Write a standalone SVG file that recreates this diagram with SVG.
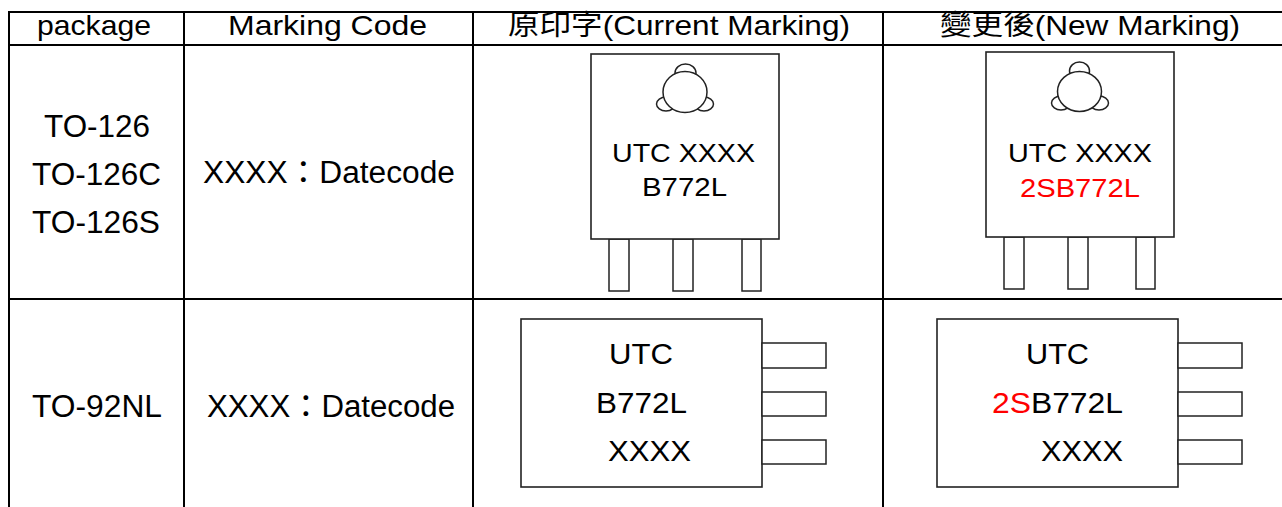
<svg xmlns="http://www.w3.org/2000/svg" width="1282" height="507" viewBox="0 0 1282 507">
<style>
.t{font-family:"Liberation Sans","Noto Sans CJK TC",Arial,sans-serif;fill:#000}
.cjk{font-family:"Noto Sans CJK TC","Liberation Sans",sans-serif}
.h{font-size:28px}
.c{font-size:31px}
.m{font-size:26px}
.n{font-size:29px}
.red{fill:#ff0000}
.grid{stroke:#000;stroke-width:2;fill:none}
.body{fill:#fff;stroke:#222;stroke-width:1.6}
.leg{fill:#fff;stroke:#222;stroke-width:1.5}
</style>
<rect width="1282" height="507" fill="#fff"/>
<g id="table-lines" class="grid">
<line x1="8" y1="12" x2="1282" y2="12"/>
<line x1="8" y1="45" x2="1282" y2="45"/>
<line x1="8" y1="299" x2="1282" y2="299"/>
<line x1="9" y1="11" x2="9" y2="507"/>
<line x1="184" y1="11" x2="184" y2="507"/>
<line x1="473" y1="11" x2="473" y2="507"/>
<line x1="883" y1="11" x2="883" y2="507"/>
</g>
<g id="header">
<text class="t h" x="37" y="35" textLength="114" lengthAdjust="spacingAndGlyphs">package</text>
<text class="t h" x="228" y="35" textLength="199" lengthAdjust="spacingAndGlyphs">Marking Code</text>
<text class="t h" x="508" y="35" textLength="342" lengthAdjust="spacingAndGlyphs"><tspan class="cjk">原印字</tspan>(Current Marking)</text>
<text class="t h" x="940" y="35" textLength="300" lengthAdjust="spacingAndGlyphs"><tspan class="cjk">變更後</tspan>(New Marking)</text>
</g>
<g id="row1-package">
<text class="t c" x="44" y="137" textLength="106" lengthAdjust="spacingAndGlyphs">TO-126</text>
<text class="t c" x="32" y="185" textLength="129" lengthAdjust="spacingAndGlyphs">TO-126C</text>
<text class="t c" x="32" y="233" textLength="128" lengthAdjust="spacingAndGlyphs">TO-126S</text>
</g>
<g id="row1-code">
<text class="t c" x="203" y="183" textLength="252" lengthAdjust="spacingAndGlyphs">XXXX：Datecode</text>
</g>
<g id="row1-current">
<rect class="leg" x="609" y="239" width="20" height="52"/>
<rect class="leg" x="673" y="239" width="20" height="52"/>
<rect class="leg" x="742" y="239" width="19" height="52"/>
<rect class="body" x="591" y="54" width="188" height="185"/>
<ellipse class="leg" cx="685.5" cy="73" rx="10.5" ry="9"/>
<ellipse class="leg" cx="666" cy="104" rx="9.5" ry="7"/>
<ellipse class="leg" cx="704" cy="104" rx="9.5" ry="7"/>
<ellipse class="leg" cx="685" cy="92" rx="22" ry="20.5"/>
<text class="t m" x="612" y="162" textLength="143" lengthAdjust="spacingAndGlyphs">UTC XXXX</text>
<text class="t m" x="642" y="196" textLength="85" lengthAdjust="spacingAndGlyphs">B772L</text>
</g>
<g id="row1-new">
<rect class="leg" x="1004" y="237" width="20" height="52"/>
<rect class="leg" x="1068" y="237" width="20" height="52"/>
<rect class="leg" x="1136" y="237" width="19" height="52"/>
<rect class="body" x="986" y="52" width="188" height="185"/>
<ellipse class="leg" cx="1079.5" cy="71" rx="10" ry="9"/>
<ellipse class="leg" cx="1061" cy="103" rx="9.5" ry="7"/>
<ellipse class="leg" cx="1099" cy="103" rx="9.5" ry="7"/>
<ellipse class="leg" cx="1079.5" cy="91.5" rx="22" ry="20"/>
<text class="t m" x="1008" y="162" textLength="144" lengthAdjust="spacingAndGlyphs">UTC XXXX</text>
<text class="t m red" x="1020" y="197" textLength="120" lengthAdjust="spacingAndGlyphs">2SB772L</text>
</g>
<g id="row2-package">
<text class="t c" x="32" y="417" textLength="130" lengthAdjust="spacingAndGlyphs">TO-92NL</text>
</g>
<g id="row2-code">
<text class="t c" x="207" y="417" textLength="248" lengthAdjust="spacingAndGlyphs">XXXX：Datecode</text>
</g>
<g id="row2-current">
<rect class="body" x="521" y="319" width="241" height="168"/>
<rect class="leg" x="762" y="343" width="64" height="25"/>
<rect class="leg" x="762" y="392" width="64" height="24"/>
<rect class="leg" x="762" y="440" width="64" height="24"/>
<text class="t n" x="609" y="364" textLength="64" lengthAdjust="spacingAndGlyphs">UTC</text>
<text class="t n" x="596" y="413" textLength="91" lengthAdjust="spacingAndGlyphs">B772L</text>
<text class="t n" x="608" y="461" textLength="83" lengthAdjust="spacingAndGlyphs">XXXX</text>
</g>
<g id="row2-new">
<rect class="body" x="937" y="319" width="241" height="168"/>
<rect class="leg" x="1178" y="343" width="64" height="25"/>
<rect class="leg" x="1178" y="392" width="64" height="24"/>
<rect class="leg" x="1178" y="440" width="64" height="24"/>
<text class="t n" x="1026" y="364" textLength="63" lengthAdjust="spacingAndGlyphs">UTC</text>
<text class="t n" x="992" y="413" textLength="131" lengthAdjust="spacingAndGlyphs"><tspan class="red">2S</tspan>B772L</text>
<text class="t n" x="1041" y="461" textLength="82" lengthAdjust="spacingAndGlyphs">XXXX</text>
</g>
</svg>
